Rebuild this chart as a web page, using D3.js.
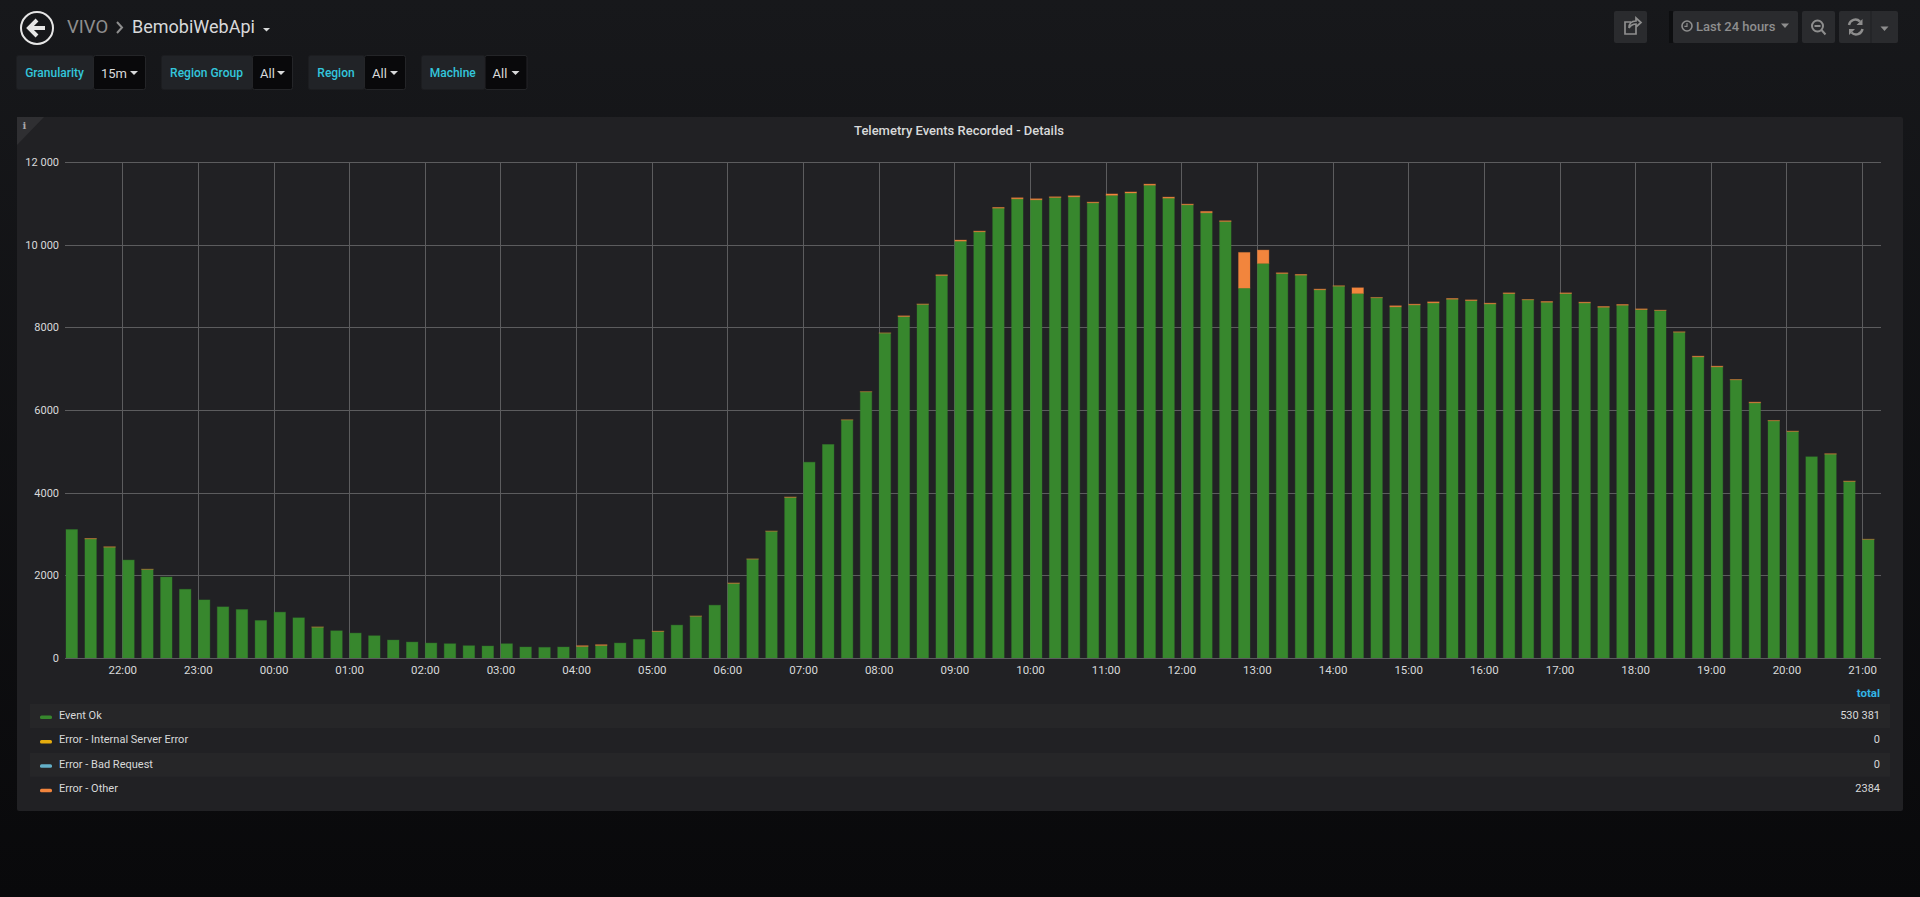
<!DOCTYPE html>
<html>
<head>
<meta charset="utf-8">
<script src="https://cdn.jsdelivr.net/npm/d3@7"></script>
<style>
  html, body { margin: 0; padding: 0; background: #0b0c0e; overflow: hidden; }
  svg { display: block; font-family: Roboto, "Open Sans", sans-serif; }
</style>
</head>
<body>
<svg id="chart" width="1920" height="897"></svg>
<script>
// one bar every 15 minutes, first bar at 21:15, last at 21:00 the next day
var EVENT_OK = [
  3108, 2883, 2682, 2369, 2144, 1959, 1662, 1405, 1237, 1172, 907, 1108,
  972, 747, 658, 602, 538, 434, 385, 361, 345, 297, 289, 345,
  265, 257, 265, 281, 305, 361, 450, 642, 795, 1012, 1277, 1807,
  2393, 3067, 3887, 4736, 5166, 5758, 6440, 7861, 8262, 8557, 9255, 10086,
  10312, 10884, 11110, 11086, 11142, 11158, 11013, 11195, 11251, 11440, 11126, 10965,
  10772, 10562, 8950, 9547, 9303, 9263, 8909, 8997, 8820, 8715, 8497, 8544,
  8592, 8681, 8648, 8568, 8818, 8665, 8608, 8818, 8592, 8487, 8536, 8431,
  8407, 7883, 7286, 7044, 6730, 6174, 5739, 5481, 4868, 4933, 4272, 2869
]
var ERROR_OTHER = [
  0, 8, 8, 0, 4, 0, 0, 0, 0, 0, 0, 0,
  0, 4, 0, 0, 0, 0, 0, 0, 0, 0, 0, 0,
  0, 0, 0, 16, 16, 0, 0, 8, 0, 4, 0, 8,
  4, 4, 8, 0, 0, 4, 4, 4, 16, 8, 16, 24,
  16, 16, 24, 24, 16, 24, 16, 32, 24, 24, 24, 16,
  32, 16, 862, 322, 16, 16, 16, 8, 137, 8, 24, 16,
  24, 16, 16, 16, 16, 8, 16, 16, 16, 16, 16, 16,
  8, 8, 16, 16, 8, 16, 8, 8, 0, 8, 8, 4
]
var ERROR_INTERNAL = EVENT_OK.map(function() { return 0 })
var ERROR_BAD_REQUEST = EVENT_OK.map(function() { return 0 })

var Y_TICKS = [0, 2000, 4000, 6000, 8000, 10000, 12000]
var LEGEND_NAMES = ["Event Ok", "Error - Internal Server Error", "Error - Bad Request", "Error - Other"]
var LEGEND_COLORS = ["#37872D", "#E5AC0E", "#64B0C8", "#F2853D"]
var LEGEND_TOTALS = [530381, 0, 0, 2384]
var VAR_LABELS = ["Granularity", "Region Group", "Region", "Machine"]
var VAR_VALUES = ["15m", "All", "All", "All"]

main()

function main() {
  var PLOT_LEFT = 65
  var PLOT_RIGHT = 1881
  var PLOT_TOP = 162
  var PLOT_BOTTOM = 658
  var TEXT_COLOR = "#d8d9da"

  var svg = d3.select("#chart")

  var defs = svg.append("defs")
  var bgGradient = defs.append("linearGradient")
      .attr("id", "page-bg")
      .attr("x1", 0).attr("y1", 0)
      .attr("x2", 0).attr("y2", 1)
  bgGradient.append("stop").attr("offset", "0%").attr("stop-color", "#17181b")
  bgGradient.append("stop").attr("offset", "100%").attr("stop-color", "#09090b")

  svg.append("rect")
      .attr("width", 1920)
      .attr("height", 897)
      .attr("fill", "url(#page-bg)")

  drawHeader(svg, TEXT_COLOR)
  drawVariables(svg, TEXT_COLOR)

  // panel
  svg.append("rect")
      .attr("x", 17)
      .attr("y", 117)
      .attr("width", 1886)
      .attr("height", 694)
      .attr("rx", 2)
      .attr("fill", "#212124")

  svg.append("polygon")
      .attr("points", "17,117 44,117 17,145")
      .attr("fill", "#2f2f32")

  svg.append("text")
      .attr("x", 24.5)
      .attr("y", 129)
      .attr("text-anchor", "middle")
      .attr("font-family", "DejaVu Serif")
      .attr("font-weight", "bold")
      .attr("font-size", 10)
      .attr("fill", "#a8a8a8")
      .text("i")

  svg.append("text")
      .attr("x", 959)
      .attr("y", 135)
      .attr("text-anchor", "middle")
      .attr("font-size", 13)
      .attr("font-weight", 500)
      .attr("fill", TEXT_COLOR)
      .text("Telemetry Events Recorded - Details")

  // scales, the time range is exactly the 24 hours of the dashboard
  var startTime = new Date(Date.UTC(2018, 0, 1, 21, 15))
  var endTime = new Date(Date.UTC(2018, 0, 2, 21, 15))
  var x = d3.scaleUtc().domain([startTime, endTime]).range([PLOT_LEFT + 0.5, PLOT_RIGHT])
  var y = d3.scaleLinear().domain([0, 12000]).range([PLOT_BOTTOM, PLOT_TOP])

  var yAxis = d3.axisLeft(y)
      .tickValues(Y_TICKS)
      .tickSize(-(PLOT_RIGHT - PLOT_LEFT))
      .tickPadding(6)
      .tickFormat(formatNumber)
  var xAxis = d3.axisBottom(x)
      .ticks(d3.utcHour.every(1))
      .tickSize(-(PLOT_BOTTOM - PLOT_TOP))
      .tickPadding(8)
      .tickFormat(d3.utcFormat("%H:%M"))

  var gx = svg.append("g")
      .attr("transform", "translate(0," + PLOT_BOTTOM + ")")
      .call(xAxis)
  var gy = svg.append("g")
      .attr("transform", "translate(" + PLOT_LEFT + ",0)")
      .call(yAxis)

  svg.selectAll(".domain").remove()
  gx.selectAll("line").attr("stroke", "#5c5c5e").attr("shape-rendering", "crispEdges")
  gy.selectAll("line").attr("stroke", "#5c5c5e").attr("shape-rendering", "crispEdges")
  gx.selectAll("text").attr("font-size", 11.5).attr("font-family", "Roboto").attr("fill", TEXT_COLOR)
  gy.selectAll("text").attr("font-size", 11).attr("font-family", "Roboto").attr("fill", TEXT_COLOR)

  // stacked bars
  var rows = EVENT_OK.map(function(v, i) {
    return {
      time: d3.timeMinute.offset(startTime, i * 15),
      ok: v,
      internal: ERROR_INTERNAL[i],
      badRequest: ERROR_BAD_REQUEST[i],
      other: ERROR_OTHER[i]
    }
  })
  var stack = d3.stack().keys(["ok", "internal", "badRequest", "other"])(rows)
  var barWidth = (x(rows[1].time) - x(rows[0].time)) * 0.66

  svg.append("g").selectAll("g")
      .data(stack)
      .join("g")
      .attr("fill", function(d, i) { return LEGEND_COLORS[i] })
      .attr("stroke", function(d, i) { return LEGEND_COLORS[i] })
      .selectAll("rect")
      .data(function(d) { return d.filter(function(p) { return p[1] > p[0] }) })
      .join("rect")
      .attr("x", function(d) { return x(d.data.time) + 0.5 })
      .attr("y", function(d) { return y(d[1]) })
      .attr("width", barWidth - 1)
      .attr("height", function(d) { return y(d[0]) - y(d[1]) })
      .attr("stroke-opacity", 0.35)

  // axis line sits above the bar feet
  svg.append("line")
      .attr("x1", PLOT_LEFT).attr("x2", PLOT_RIGHT)
      .attr("y1", PLOT_BOTTOM + 0.5).attr("y2", PLOT_BOTTOM + 0.5)
      .attr("stroke", "#5c5c5e")

  drawLegend(svg, TEXT_COLOR)
}

function formatNumber(v) {
  if (v < 10000) return String(v)
  return d3.format(",")(v).replace(/,/g, " ")
}

function drawLegend(svg, textColor) {
  svg.append("text")
      .attr("x", 1880)
      .attr("y", 697)
      .attr("text-anchor", "end")
      .attr("font-size", 11.5)
      .attr("font-weight", "bold")
      .attr("fill", "#33b5e5")
      .text("total")

  var row = svg.append("g").selectAll("g")
      .data(LEGEND_NAMES)
      .join("g")
      .attr("transform", function(d, i) { return "translate(0," + (704 + i * 24.4) + ")" })

  row.append("rect")
      .attr("x", 30)
      .attr("width", 1860)
      .attr("height", 24)
      .attr("fill", function(d, i) { return i % 2 == 0 ? "#262628" : "none" })

  row.append("rect")
      .attr("x", 40)
      .attr("y", 11.5)
      .attr("width", 12)
      .attr("height", 3.5)
      .attr("rx", 1.5)
      .attr("fill", function(d, i) { return LEGEND_COLORS[i] })

  row.append("text")
      .attr("x", 59)
      .attr("y", 15)
      .attr("font-size", 11)
      .attr("fill", textColor)
      .text(function(d) { return d })

  row.append("text")
      .attr("x", 1880)
      .attr("y", 15)
      .attr("text-anchor", "end")
      .attr("font-size", 11)
      .attr("fill", textColor)
      .text(function(d, i) { return formatNumber(LEGEND_TOTALS[i]) })
}

function drawHeader(svg, textColor) {
  var BUTTON_FILL = "#2a2b2e"
  var ICON_COLOR = "#8e8e8e"

  svg.append("circle")
      .attr("cx", 37)
      .attr("cy", 28)
      .attr("r", 16)
      .attr("fill", "none")
      .attr("stroke", "#e6e6e6")
      .attr("stroke-width", 2)
  svg.append("path")
      .attr("d", "M37 20 L29 28 L37 36 M30 28 L45 28")
      .attr("fill", "none")
      .attr("stroke", "#e6e6e6")
      .attr("stroke-width", 4)

  svg.append("text")
      .attr("x", 67)
      .attr("y", 33)
      .attr("font-size", 18.5)
      .attr("fill", "#8e8e8e")
      .text("VIVO")
  svg.append("path")
      .attr("d", "M117 22 L122 27.5 L117 33")
      .attr("fill", "none")
      .attr("stroke", "#8e8e8e")
      .attr("stroke-width", 2)
  svg.append("text")
      .attr("x", 132)
      .attr("y", 33)
      .attr("font-size", 18)
      .attr("fill", textColor)
      .text("BemobiWebApi")
  svg.append("path")
      .attr("d", "M263 28 h7 l-3.5 3.5 z")
      .attr("fill", textColor)

  var buttons = [[1614, 33], [1673, 125], [1802, 33], [1839, 59]]
  svg.append("g").selectAll("rect")
      .data(buttons)
      .join("rect")
      .attr("x", function(d) { return d[0] })
      .attr("y", 11)
      .attr("width", function(d) { return d[1] })
      .attr("height", 32)
      .attr("rx", 2)
      .attr("fill", BUTTON_FILL)
  svg.append("rect").attr("x", 1669).attr("y", 11).attr("width", 4).attr("height", 32).attr("fill", "#0d0e10")
  svg.append("line").attr("x1", 1871).attr("x2", 1871).attr("y1", 11).attr("y2", 43).attr("stroke", "#1f2023")

  // share icon
  svg.append("path")
      .attr("d", "M1636 27 v7 h-11 v-12 h6 M1629 28 c0 -5 3 -7 7 -7 v-3 l5 4.5 l-5 4.5 v-3 c-3 0 -5 1 -7 4")
      .attr("fill", "none")
      .attr("stroke", ICON_COLOR)
      .attr("stroke-width", 1.7)

  // clock
  svg.append("circle").attr("cx", 1687).attr("cy", 26).attr("r", 5)
      .attr("fill", "none").attr("stroke", ICON_COLOR).attr("stroke-width", 1.6)
  svg.append("path").attr("d", "M1687 23 v3.4 h-2.6")
      .attr("fill", "none").attr("stroke", ICON_COLOR).attr("stroke-width", 1.2)
  svg.append("text")
      .attr("x", 1696)
      .attr("y", 31)
      .attr("font-size", 13)
      .attr("font-weight", 500)
      .attr("fill", ICON_COLOR)
      .text("Last 24 hours")
  svg.append("path").attr("d", "M1781 23.5 h8 l-4 4.5 z").attr("fill", ICON_COLOR)

  // zoom out
  svg.append("circle").attr("cx", 1817.5).attr("cy", 26).attr("r", 5.5)
      .attr("fill", "none").attr("stroke", ICON_COLOR).attr("stroke-width", 2)
  svg.append("path").attr("d", "M1814.5 26 h6 M1821.5 30 l4 4.5")
      .attr("fill", "none").attr("stroke", ICON_COLOR).attr("stroke-width", 2)

  // refresh
  svg.append("path")
      .attr("d", "M1849 25 a6.5 6.5 0 0 1 11 -3.5 M1862.5 29 a6.5 6.5 0 0 1 -11 3.5")
      .attr("fill", "none").attr("stroke", ICON_COLOR).attr("stroke-width", 2.4)
  svg.append("path").attr("d", "M1862.5 19 v6 h-6 z M1849 35 v-6 h6 z").attr("fill", ICON_COLOR)

  svg.append("path").attr("d", "M1880.5 26.5 h8 l-4 4.5 z").attr("fill", ICON_COLOR)
}

function drawVariables(svg, textColor) {
  // label start, value start, box end
  var BOXES = [[16, 93, 145], [161, 252, 292], [308, 364, 405], [421, 484.5, 526.5]]

  var box = svg.append("g").selectAll("g")
      .data(VAR_LABELS)
      .join("g")

  box.append("rect")
      .attr("x", function(d, i) { return BOXES[i][0] + 0.5 })
      .attr("y", 55.5)
      .attr("width", function(d, i) { return BOXES[i][1] - BOXES[i][0] })
      .attr("height", 34)
      .attr("rx", 2)
      .attr("fill", "#212327")
      .attr("stroke", "#1c1d20")

  box.append("rect")
      .attr("x", function(d, i) { return BOXES[i][1] + 0.5 })
      .attr("y", 55.5)
      .attr("width", function(d, i) { return BOXES[i][2] - BOXES[i][1] })
      .attr("height", 34)
      .attr("rx", 2)
      .attr("fill", "#09090b")
      .attr("stroke", "#242528")

  box.append("text")
      .attr("x", function(d, i) { return (BOXES[i][0] + BOXES[i][1]) / 2 })
      .attr("y", 77)
      .attr("text-anchor", "middle")
      .attr("font-size", 12)
      .attr("font-weight", 500)
      .attr("fill", "#33c6dc")
      .text(function(d) { return d })

  box.append("text")
      .attr("x", function(d, i) { return BOXES[i][1] + 8 })
      .attr("y", 78)
      .attr("font-size", 13)
      .attr("fill", textColor)
      .text(function(d, i) { return VAR_VALUES[i] })

  box.append("path")
      .attr("d", function(d, i) {
        return "M" + (BOXES[i][2] - 15) + " 71 h8 l-4 4 z"
      })
      .attr("fill", textColor)
}
</script>
</body>
</html>
